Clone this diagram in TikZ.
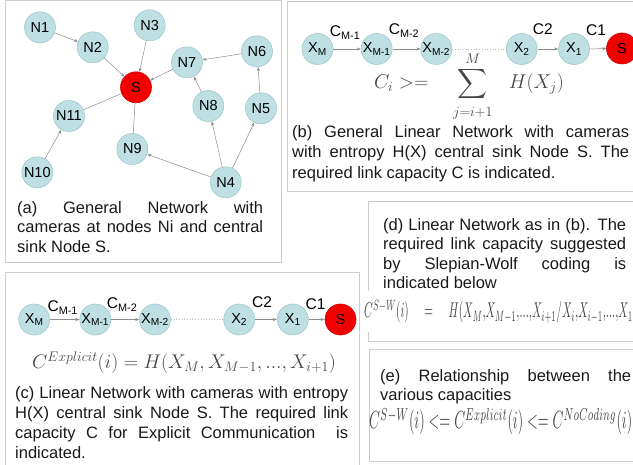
\RequirePackage{fix-cm}
\documentclass[tikz,border=0pt]{standalone}
\usepackage{exscale}
\usepackage{fontspec}
\setmainfont{Liberation Sans}
\usepackage{graphicx}
\usetikzlibrary{arrows.meta}
\definecolor{camfill}{RGB}{190,224,226}
\definecolor{camline}{RGB}{160,200,205}
\definecolor{sinkfill}{RGB}{242,0,0}
\definecolor{sinkline}{RGB}{205,0,0}
\definecolor{panelline}{RGB}{205,205,205}
\definecolor{linkline}{RGB}{140,140,140}
\definecolor{captext}{RGB}{25,25,25}
\definecolor{mathtext}{RGB}{70,70,70}
\begin{document}
\begin{tikzpicture}[x=1pt,y=-1pt,
  panel/.style={draw=panelline, line width=1pt},
  cam/.style={circle, draw=camline, line width=0.6pt, fill=camfill, minimum size=31pt, inner sep=0pt, font=\fontsize{14.5}{16}\selectfont},
  sinknode/.style={cam, draw=sinkline, fill=sinkfill},
  link/.style={draw=linkline, line width=0.5pt, -{Stealth[length=4pt,width=3pt]}},
  plainlink/.style={draw=linkline, line width=0.5pt},
  gaplink/.style={draw=linkline!60, line width=0.7pt, dotted},
  elab/.style={anchor=base, inner sep=0pt, font=\fontsize{15.5}{17}\selectfont},
  caption/.style={anchor=north west, inner sep=0pt, align=left, text=captext},
  formula/.style={anchor=base west, inner sep=0pt, text=mathtext}]
\useasboundingbox (0,0) rectangle (633,465);
\clip (0,0) rectangle (633,465);

% panels
\draw[panel] (5,0.5) rectangle (281,263);
\draw[panel] (287,1.5) rectangle (640,192);
\draw[panel] (5,273) rectangle (359,470);
\draw[panel] (368,202) rectangle (640,342);
\draw[panel] (369,350) rectangle (640,462);

% (a) general network
\node[cam] (n1) at (40,27.3) {N1};
\node[cam] (n2) at (92.7,47.3) {N2};
\node[cam] (n3) at (149.7,25.3) {N3};
\node[sinknode] (sa) at (136,87.3) {S};
\node[cam] (n7) at (187,62.3) {N7};
\node[cam] (n6) at (257,51.3) {N6};
\node[cam] (n8) at (208.3,106) {N8};
\node[cam] (n5) at (261,108.3) {N5};
\node[cam] (n11) at (69,116) {N11};
\node[cam] (n9) at (132.3,149) {N9};
\node[cam] (n10) at (37.3,172.3) {N10};
\node[cam] (n4) at (225.7,182.3) {N4};
\draw[link] (n1) -- (n2);
\draw[link] (n2) -- (sa);
\draw[link] (n3) -- (sa);
\draw[link] (n7) -- (sa);
\draw[plainlink] (n11) -- (sa);
\draw[plainlink] (n9) -- (sa);
\draw[link] (n10) -- (n11);
\draw[link] (n4) -- (n9);
\draw[link] (n4) -- (n8);
\draw[link] (n8) -- (n7);
\draw[link] (n4) -- (n5);
\draw[link] (n5) -- (n6);
\draw[link] (n6) -- (n7);

% (b) linear network
\node[cam] (bxm) at (317.5,49) {X\textsubscript{M}};
\node[cam] (bxm1) at (376.7,49) {X\textsubscript{M-1}};
\node[cam] (bxm2) at (436.3,49) {X\textsubscript{M-2}};
\node[cam] (bx2) at (521.7,49) {X\textsubscript{2}};
\node[cam] (bx1) at (574,49) {X\textsubscript{1}};
\node[sinknode] (bs) at (622,48.5) {S};
\draw[link] (bxm) -- node[elab, yshift=12pt, xshift=-2pt] {C\textsubscript{M-1}} (bxm1);
\draw[link] (bxm1) -- node[elab, yshift=14pt, xshift=-2.5pt] {C\textsubscript{M-2}} (bxm2);
\draw[gaplink] (bxm2) -- (bx2);
\draw[link] (bx2) -- node[elab, yshift=14pt, xshift=-5pt] {C2} (bx1);
\draw[link] (bx1) -- node[elab, yshift=13pt, xshift=-2pt] {C1} (bs);
\node[formula, font=\fontsize{20}{24}\selectfont] (fb) at (374,89) {$C_i>=\hspace{19pt}\displaystyle\sum_{\rule{0pt}{12pt}j=i+1}^{M}\hspace{13pt}H(X_j)$};

% (c) linear network, explicit
\node[cam] (cxm) at (34.2,319.5) {X\textsubscript{M}};
\node[cam] (cxm1) at (95.3,319.5) {X\textsubscript{M-1}};
\node[cam] (cxm2) at (155,319.5) {X\textsubscript{M-2}};
\node[cam] (cx2) at (239.2,319.5) {X\textsubscript{2}};
\node[cam] (cx1) at (292.8,319.5) {X\textsubscript{1}};
\node[sinknode] (cs) at (340.5,319.5) {S};
\draw[link] (cxm) -- node[elab, yshift=7.5pt, xshift=-2pt] {C\textsubscript{M-1}} (cxm1);
\draw[link] (cxm1) -- node[elab, yshift=10.5pt, xshift=-3pt] {C\textsubscript{M-2}} (cxm2);
\draw[gaplink] (cxm2) -- (cx2);
\draw[link] (cx2) -- node[elab, yshift=11.5pt, xshift=-4pt] {C2} (cx1);
\draw[link] (cx1) -- node[elab, yshift=9.5pt, xshift=-1pt] {C1} (cs);
\node[formula, font=\fontsize{19.8}{23}\selectfont] (fc) at (32,369) {$C^{Explicit}(i) = H(X_M, X_{M-1}, ..., X_{i+1})$};

% (d) Slepian-Wolf formula
\node[formula, fill=white, inner xsep=1pt, inner ysep=9pt] (fd) at (363,318) {\resizebox{273pt}{18pt}{$C^{S-W}(i)\hspace{11pt}=\hspace{11pt}H(X_M{,}X_{M-1}{,}...{,}X_{i+1}/X_i{,}X_{i-1}{,}...{,}X_1)$}};

% (e) relationship formula
\node[formula] (fe) at (369,429) {\resizebox{263pt}{21pt}{$C^{S-W}(i) <= C^{Explicit}(i) <= C^{NoCoding}(i)$}};

% captions
\node[caption, font=\fontsize{16.5}{19.5}\selectfont] (capa) at (17,200) {\rule{0pt}{13pt}\makebox[246pt][s]{(a) General Network with}\\\makebox[246pt][s]{cameras at nodes Ni and central}\\sink Node S.};
\node[caption, font=\fontsize{16.5}{20.5}\selectfont] (capb) at (292,124.3) {\rule{0pt}{13pt}\makebox[337pt][s]{(b) General Linear Network with cameras}\\\makebox[337pt][s]{with entropy H(X) central sink Node S. The}\\required link capacity C is indicated.};
\node[caption, font=\fontsize{16.5}{20}\selectfont] (capc) at (15,385) {\rule{0pt}{13pt}\makebox[333pt][s]{(c) Linear Network with cameras with entropy}\\\makebox[333pt][s]{H(X) central sink Node S. The required link}\\\makebox[333pt][s]{capacity C for Explicit Communication\ \ is}\\indicated.};
\node[caption, font=\fontsize{16.5}{19.5}\selectfont] (capd) at (383,217) {\rule{0pt}{13pt}\makebox[243pt][s]{(d) Linear Network as in (b). The}\\\makebox[243pt][s]{required link capacity suggested}\\\makebox[243pt][s]{by Slepian-Wolf coding is}\\indicated below};
\node[caption, font=\fontsize{16.5}{19}\selectfont] (cape) at (380,368.7) {\rule{0pt}{13pt}\makebox[251pt][s]{(e) Relationship between the}\\various capacities};
\end{tikzpicture}
\end{document}
